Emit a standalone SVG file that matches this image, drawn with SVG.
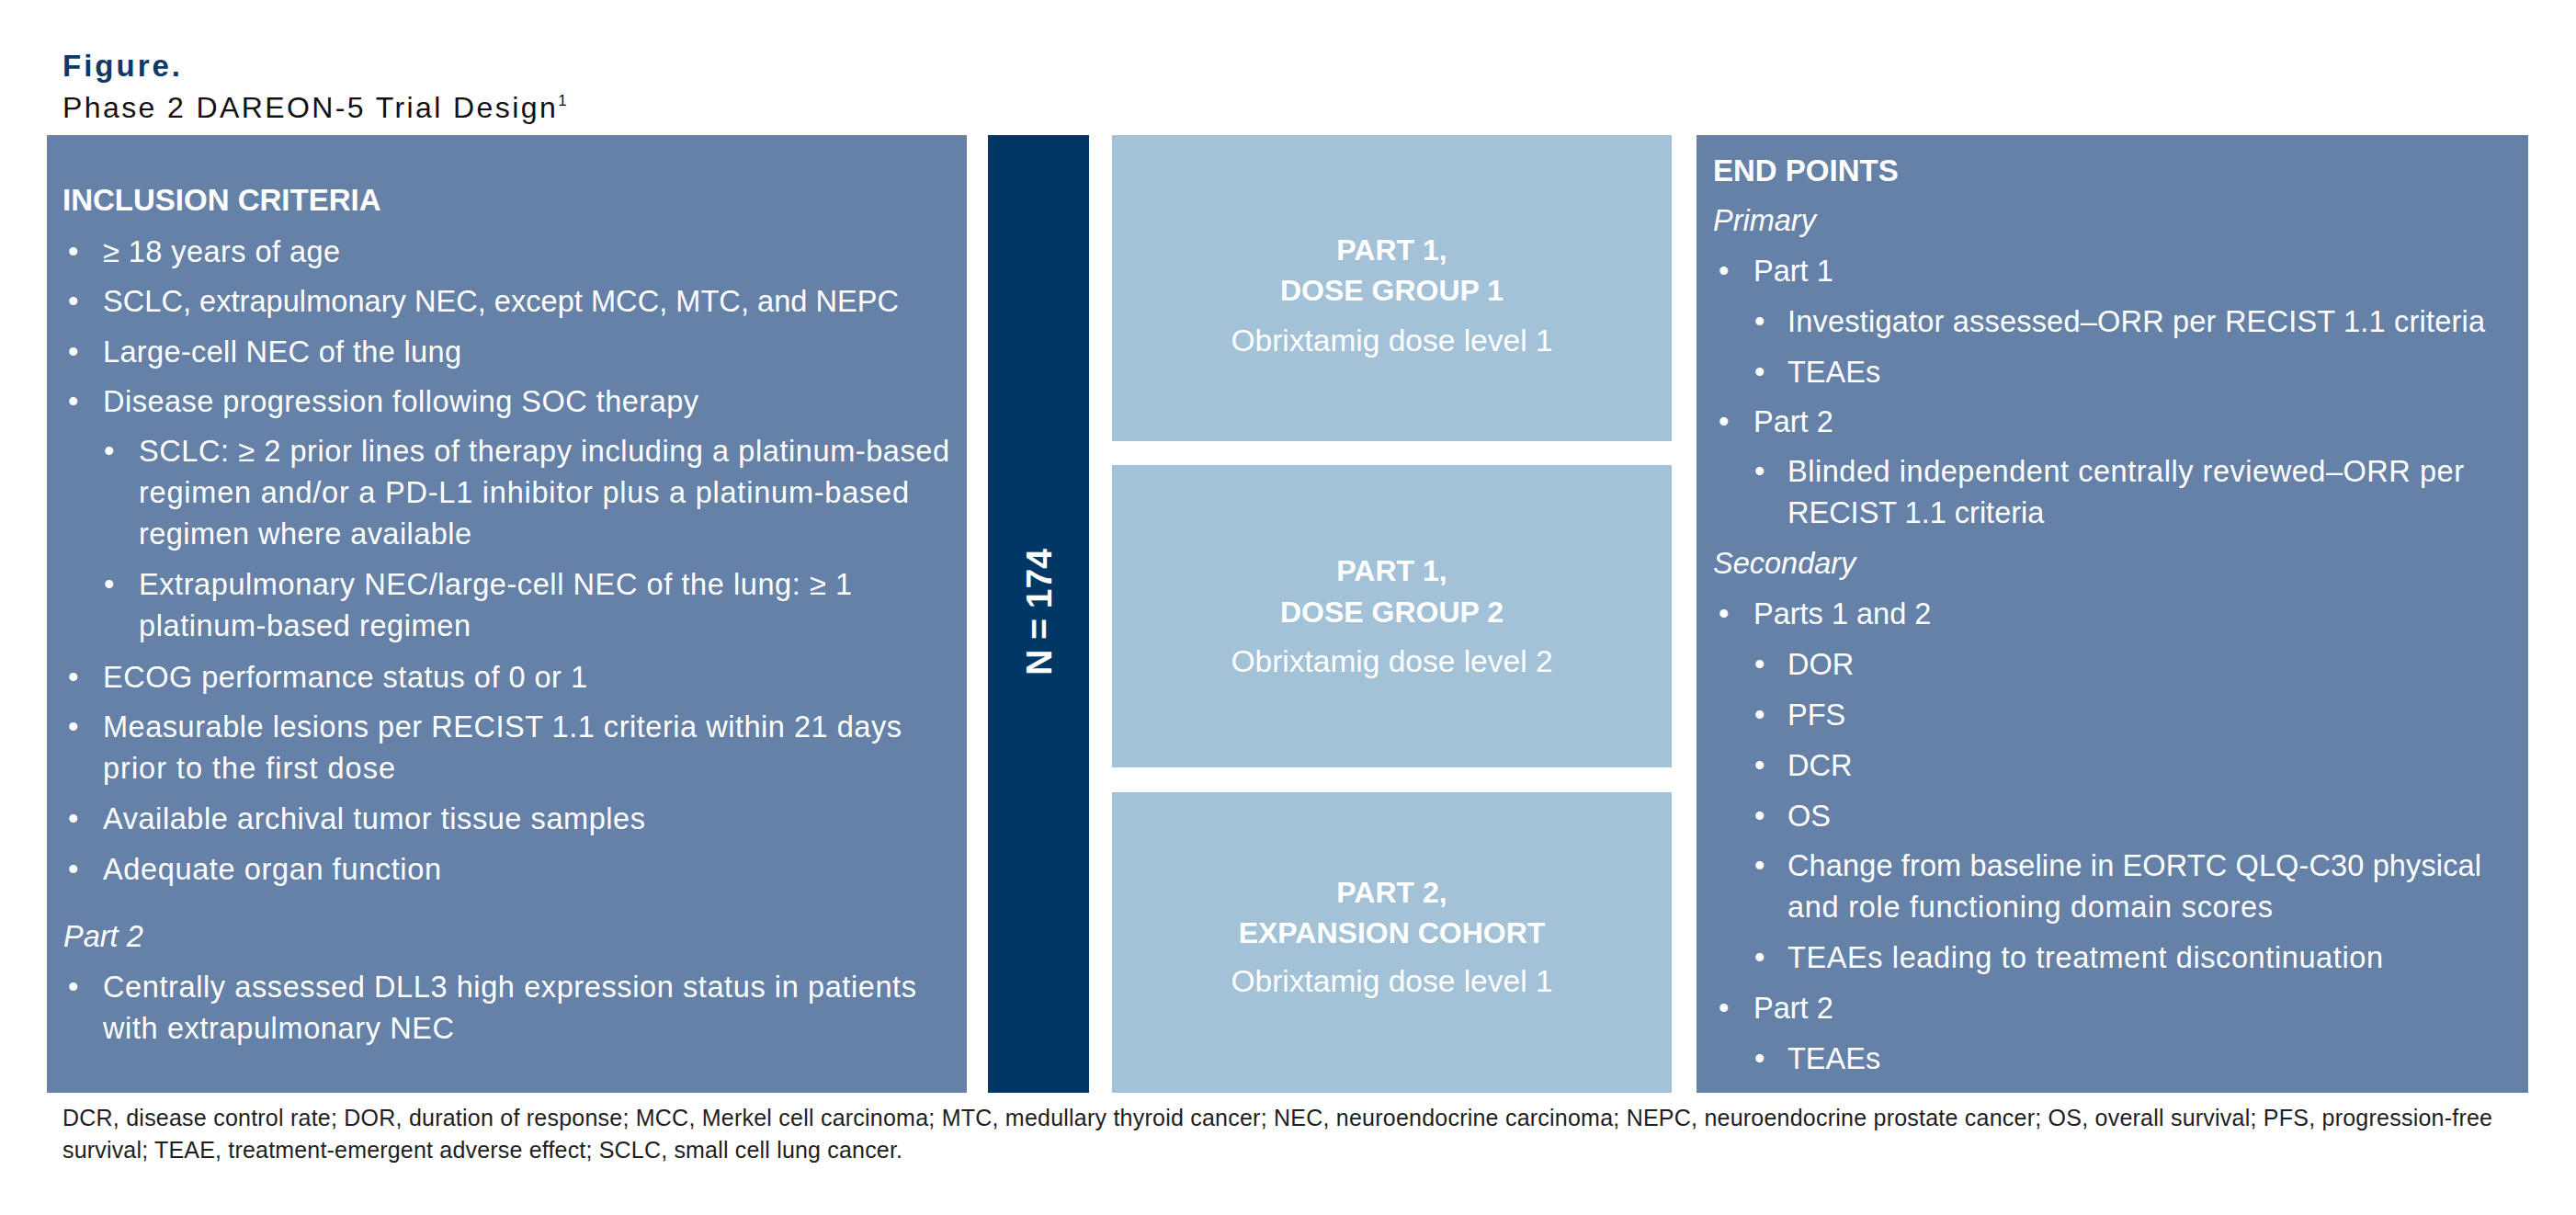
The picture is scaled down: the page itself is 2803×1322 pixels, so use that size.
<svg xmlns="http://www.w3.org/2000/svg" width="2803" height="1322" viewBox="0 0 2803 1322">
<style>
text{font-family:"Liberation Sans",Arial,sans-serif;}
.panel{fill:#6581A7;}
.light{fill:#A3C1D7;}
.dark{fill:#003764;}
.t{font-size:32.5px;fill:#ffffff;}
.h{font-size:33px;font-weight:bold;fill:#ffffff;}
.it{font-size:32.5px;font-style:italic;fill:#ffffff;}
.mb{font-size:32px;font-weight:bold;fill:#ffffff;text-anchor:middle;}
.mr{font-size:33.5px;fill:#ffffff;text-anchor:middle;}
.foot{font-size:25px;fill:#1e1e1e;}
</style>
<rect width="2803" height="1322" fill="#ffffff"/>
<g id="title">
<text x="68" y="83" style="font-size:33px;font-weight:bold;fill:#0B3A66;letter-spacing:3px">Figure.</text>
<text x="68" y="128" style="font-size:32px;fill:#111111;letter-spacing:2.4px">Phase 2 DAREON-5 Trial Design<tspan font-size="17" dy="-13">1</tspan></text>
</g>
<g id="inclusion-criteria">
<rect class="panel" x="51" y="147" width="1001" height="1042"/>
<text class="h" x="68" y="229">INCLUSION CRITERIA</text>
<text class="t" x="74" y="285">•</text><text class="t" x="112" y="285" textLength="258" lengthAdjust="spacing">≥ 18 years of age</text>
<text class="t" x="74" y="339">•</text><text class="t" x="112" y="339" textLength="866" lengthAdjust="spacing">SCLC, extrapulmonary NEC, except MCC, MTC, and NEPC</text>
<text class="t" x="74" y="393.5">•</text><text class="t" x="112" y="393.5" textLength="390" lengthAdjust="spacing">Large-cell NEC of the lung</text>
<text class="t" x="74" y="448">•</text><text class="t" x="112" y="448" textLength="648" lengthAdjust="spacing">Disease progression following SOC therapy</text>
<text class="t" x="113" y="502">•</text><text class="t" x="151" y="502" textLength="882" lengthAdjust="spacing">SCLC: ≥ 2 prior lines of therapy including a platinum-based</text>
<text class="t" x="151" y="547" textLength="838" lengthAdjust="spacing">regimen and/or a PD-L1 inhibitor plus a platinum-based</text>
<text class="t" x="151" y="592" textLength="362" lengthAdjust="spacing">regimen where available</text>
<text class="t" x="113" y="647">•</text><text class="t" x="151" y="647" textLength="776" lengthAdjust="spacing">Extrapulmonary NEC/large-cell NEC of the lung: ≥ 1</text>
<text class="t" x="151" y="692" textLength="361" lengthAdjust="spacing">platinum-based regimen</text>
<text class="t" x="74" y="747.5">•</text><text class="t" x="112" y="747.5" textLength="527" lengthAdjust="spacing">ECOG performance status of 0 or 1</text>
<text class="t" x="74" y="802">•</text><text class="t" x="112" y="802" textLength="869" lengthAdjust="spacing">Measurable lesions per RECIST 1.1 criteria within 21 days</text>
<text class="t" x="112" y="847" textLength="318" lengthAdjust="spacing">prior to the first dose</text>
<text class="t" x="74" y="902">•</text><text class="t" x="112" y="902" textLength="590" lengthAdjust="spacing">Available archival tumor tissue samples</text>
<text class="t" x="74" y="957">•</text><text class="t" x="112" y="957" textLength="368" lengthAdjust="spacing">Adequate organ function</text>
<text class="it" x="69" y="1030">Part 2</text>
<text class="t" x="74" y="1085">•</text><text class="t" x="112" y="1085" textLength="885" lengthAdjust="spacing">Centrally assessed DLL3 high expression status in patients</text>
<text class="t" x="112" y="1130" textLength="382" lengthAdjust="spacing">with extrapulmonary NEC</text>
</g>
<g id="n-total">
<rect class="dark" x="1075" y="147" width="110" height="1042"/>
<text transform="translate(1144,666) rotate(-90)" style="font-size:39px;font-weight:bold;fill:#ffffff;text-anchor:middle">N = 174</text>
</g>
<g id="part1-dose-group-1">
<rect class="light" x="1210" y="147" width="609" height="333"/>
<text class="mb" x="1514.5" y="283">PART 1,</text>
<text class="mb" x="1514.5" y="327">DOSE GROUP 1</text>
<text class="mr" x="1514.5" y="382">Obrixtamig dose level 1</text>
</g>
<g id="part1-dose-group-2">
<rect class="light" x="1210" y="506" width="609" height="329"/>
<text class="mb" x="1514.5" y="632">PART 1,</text>
<text class="mb" x="1514.5" y="677">DOSE GROUP 2</text>
<text class="mr" x="1514.5" y="731">Obrixtamig dose level 2</text>
</g>
<g id="part2-expansion-cohort">
<rect class="light" x="1210" y="862" width="609" height="327"/>
<text class="mb" x="1514.5" y="982">PART 2,</text>
<text class="mb" x="1514.5" y="1026">EXPANSION COHORT</text>
<text class="mr" x="1514.5" y="1079">Obrixtamig dose level 1</text>
</g>
<g id="end-points">
<rect class="panel" x="1846" y="147" width="905" height="1042"/>
<text class="h" x="1864" y="197">END POINTS</text>
<text class="it" x="1864" y="251">Primary</text>
<text class="t" x="1870" y="306">•</text><text class="t" x="1908" y="306">Part 1</text>
<text class="t" x="1909" y="360.5">•</text><text class="t" x="1945" y="360.5" textLength="759" lengthAdjust="spacing">Investigator assessed–ORR per RECIST 1.1 criteria</text>
<text class="t" x="1909" y="415.5">•</text><text class="t" x="1945" y="415.5">TEAEs</text>
<text class="t" x="1870" y="470">•</text><text class="t" x="1908" y="470">Part 2</text>
<text class="t" x="1909" y="524">•</text><text class="t" x="1945" y="524" textLength="736" lengthAdjust="spacing">Blinded independent centrally reviewed–ORR per</text>
<text class="t" x="1945" y="569">RECIST 1.1 criteria</text>
<text class="it" x="1864" y="624">Secondary</text>
<text class="t" x="1870" y="679">•</text><text class="t" x="1908" y="679">Parts 1 and 2</text>
<text class="t" x="1909" y="734">•</text><text class="t" x="1945" y="734">DOR</text>
<text class="t" x="1909" y="789">•</text><text class="t" x="1945" y="789">PFS</text>
<text class="t" x="1909" y="844">•</text><text class="t" x="1945" y="844">DCR</text>
<text class="t" x="1909" y="898.5">•</text><text class="t" x="1945" y="898.5">OS</text>
<text class="t" x="1909" y="953">•</text><text class="t" x="1945" y="953" textLength="755" lengthAdjust="spacing">Change from baseline in EORTC QLQ-C30 physical</text>
<text class="t" x="1945" y="998" textLength="528" lengthAdjust="spacing">and role functioning domain scores</text>
<text class="t" x="1909" y="1053">•</text><text class="t" x="1945" y="1053" textLength="648" lengthAdjust="spacing">TEAEs leading to treatment discontinuation</text>
<text class="t" x="1870" y="1108">•</text><text class="t" x="1908" y="1108">Part 2</text>
<text class="t" x="1909" y="1163">•</text><text class="t" x="1945" y="1163">TEAEs</text>
</g>
<g id="connectors"></g>
<g id="footnote">
<text class="foot" x="68" y="1225" textLength="2644" lengthAdjust="spacing">DCR, disease control rate; DOR, duration of response; MCC, Merkel cell carcinoma; MTC, medullary thyroid cancer; NEC, neuroendocrine carcinoma; NEPC, neuroendocrine prostate cancer; OS, overall survival; PFS, progression-free</text>
<text class="foot" x="68" y="1260" textLength="914" lengthAdjust="spacing">survival; TEAE, treatment-emergent adverse effect; SCLC, small cell lung cancer.</text>
</g>
</svg>
